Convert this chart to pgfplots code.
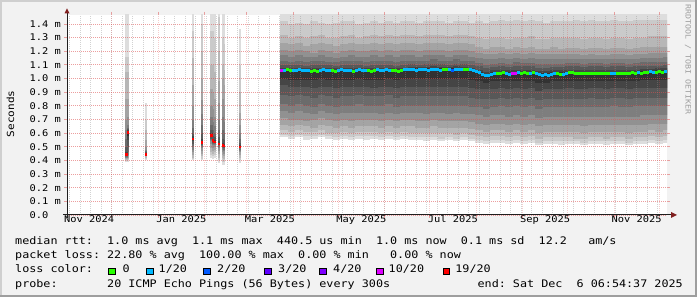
\documentclass[border=0pt]{standalone}
\usepackage{fontspec}
\setmainfont[FakeStretch=1.13]{DejaVu Sans Mono}
\usepackage{pgfplots}
\pgfplotsset{compat=1.18}
\usepackage{pgfplotstable}

\definecolor{bgc}{HTML}{F2F2F2}
\definecolor{shadeA}{HTML}{CFCFCF}
\definecolor{shadeB}{HTML}{9E9E9E}
\definecolor{mgridc}{rgb}{0.87,0.31,0.31}
\definecolor{gridc}{rgb}{0.56,0.56,0.56}
\definecolor{arrowc}{rgb}{0.50,0.12,0.12}
\definecolor{axisc}{rgb}{0.12,0.12,0.12}
\definecolor{s1}{HTML}{DDDDDD}
\definecolor{s2}{HTML}{CACACA}
\definecolor{s3}{HTML}{B7B7B7}
\definecolor{s4}{HTML}{A4A4A4}
\definecolor{s5}{HTML}{919191}
\definecolor{s6}{HTML}{7E7E7E}
\definecolor{s7}{HTML}{6B6B6B}
\definecolor{s8}{HTML}{585858}
\definecolor{s9}{HTML}{454545}
\definecolor{s10}{HTML}{323232}
\definecolor{lc0}{HTML}{26FF00}
\definecolor{lc1}{HTML}{00B8FF}
\definecolor{lc2}{HTML}{0059FF}
\definecolor{lc3}{HTML}{5E00FF}
\definecolor{lc4}{HTML}{7E00FF}
\definecolor{lc10}{HTML}{DD00FF}
\definecolor{lc19}{HTML}{FF0000}

% smoke of the main period: 20 sorted ping times (ms) per 5-day column
\pgfplotstableread{
d lo1 lo2 lo3 lo4 lo5 lo6 lo7 lo8 lo9 lo10 hi10 hi9 hi8 hi7 hi6 hi5 hi4 hi3 hi2 hi1
145 0.57 0.59 0.62 0.66 0.71 0.76 0.81 0.88 0.95 1.00 1.07 1.08 1.10 1.13 1.17 1.21 1.26 1.32 1.42 1.6
150 0.56 0.58 0.61 0.65 0.70 0.75 0.80 0.87 0.94 0.99 1.07 1.08 1.10 1.12 1.16 1.20 1.25 1.30 1.40 1.6
155 0.57 0.59 0.62 0.66 0.70 0.76 0.81 0.88 0.94 0.99 1.065 1.08 1.10 1.13 1.17 1.21 1.26 1.31 1.41 1.6
160 0.55 0.58 0.61 0.65 0.69 0.75 0.80 0.87 0.94 0.99 1.065 1.075 1.095 1.12 1.16 1.20 1.24 1.30 1.40 1.6
165 0.56 0.58 0.61 0.64 0.70 0.74 0.79 0.86 0.93 0.99 1.06 1.075 1.10 1.13 1.16 1.19 1.25 1.31 1.42 1.6
170 0.57 0.59 0.62 0.66 0.71 0.76 0.81 0.88 0.94 1.00 1.07 1.08 1.10 1.13 1.17 1.21 1.26 1.32 1.41 1.6
175 0.56 0.58 0.60 0.65 0.70 0.75 0.80 0.87 0.94 0.99 1.065 1.08 1.10 1.12 1.16 1.20 1.25 1.30 1.40 1.6
180 0.55 0.57 0.60 0.64 0.69 0.74 0.79 0.86 0.93 0.99 1.06 1.075 1.095 1.12 1.15 1.19 1.24 1.30 1.41 1.6
185 0.56 0.58 0.61 0.65 0.70 0.75 0.80 0.87 0.94 0.99 1.065 1.08 1.10 1.13 1.16 1.20 1.25 1.31 1.42 1.6
190 0.55 0.57 0.60 0.64 0.69 0.75 0.80 0.87 0.94 0.99 1.06 1.075 1.10 1.13 1.17 1.21 1.26 1.32 1.42 1.6
195 0.56 0.58 0.61 0.65 0.70 0.75 0.81 0.88 0.94 1.00 1.07 1.08 1.10 1.13 1.16 1.20 1.25 1.30 1.40 1.6
200 0.55 0.58 0.61 0.65 0.70 0.75 0.80 0.87 0.94 0.99 1.06 1.075 1.095 1.12 1.16 1.20 1.25 1.31 1.41 1.6
205 0.56 0.58 0.61 0.65 0.70 0.75 0.80 0.87 0.93 0.99 1.06 1.075 1.10 1.13 1.17 1.21 1.26 1.32 1.42 1.6
210 0.55 0.57 0.60 0.64 0.69 0.74 0.80 0.87 0.94 0.99 1.065 1.08 1.10 1.13 1.16 1.20 1.25 1.31 1.41 1.6
215 0.56 0.58 0.61 0.65 0.70 0.75 0.81 0.88 0.94 1.00 1.07 1.08 1.10 1.13 1.17 1.21 1.26 1.32 1.42 1.6
220 0.55 0.57 0.60 0.64 0.69 0.74 0.79 0.86 0.93 0.99 1.06 1.075 1.095 1.12 1.16 1.20 1.25 1.31 1.41 1.6
225 0.56 0.58 0.61 0.65 0.70 0.75 0.80 0.87 0.94 1.00 1.07 1.08 1.10 1.13 1.17 1.21 1.26 1.32 1.42 1.6
230 0.55 0.57 0.60 0.65 0.70 0.75 0.80 0.87 0.94 1.00 1.075 1.085 1.105 1.13 1.17 1.21 1.26 1.32 1.42 1.6
235 0.55 0.57 0.60 0.64 0.69 0.75 0.80 0.87 0.94 1.00 1.075 1.085 1.10 1.13 1.16 1.20 1.25 1.31 1.41 1.6
240 0.54 0.57 0.60 0.64 0.69 0.74 0.80 0.87 0.94 1.00 1.075 1.085 1.105 1.13 1.17 1.21 1.26 1.32 1.42 1.6
245 0.55 0.57 0.60 0.65 0.70 0.75 0.80 0.87 0.94 1.00 1.08 1.09 1.11 1.14 1.17 1.21 1.26 1.32 1.42 1.6
250 0.54 0.56 0.60 0.64 0.69 0.75 0.80 0.87 0.94 1.00 1.075 1.085 1.105 1.13 1.17 1.21 1.26 1.32 1.42 1.6
255 0.55 0.57 0.60 0.64 0.69 0.74 0.80 0.87 0.94 1.00 1.075 1.085 1.10 1.13 1.16 1.20 1.25 1.31 1.41 1.6
260 0.54 0.56 0.59 0.64 0.69 0.75 0.80 0.87 0.94 1.00 1.08 1.09 1.11 1.14 1.17 1.21 1.26 1.32 1.42 1.6
265 0.55 0.57 0.60 0.64 0.69 0.74 0.80 0.87 0.94 1.00 1.075 1.085 1.105 1.13 1.17 1.21 1.26 1.32 1.42 1.6
270 0.54 0.56 0.59 0.63 0.68 0.74 0.79 0.86 0.93 0.99 1.07 1.08 1.10 1.13 1.16 1.20 1.25 1.31 1.41 1.6
275 0.53 0.55 0.58 0.62 0.67 0.73 0.79 0.85 0.92 0.98 1.05 1.065 1.09 1.115 1.15 1.19 1.23 1.30 1.42 1.6
280 0.52 0.54 0.57 0.61 0.66 0.72 0.78 0.85 0.92 0.97 1.03 1.05 1.075 1.10 1.14 1.18 1.22 1.29 1.41 1.6
285 0.53 0.55 0.58 0.62 0.67 0.73 0.79 0.85 0.92 0.98 1.045 1.06 1.085 1.11 1.145 1.18 1.23 1.30 1.42 1.6
290 0.53 0.55 0.58 0.62 0.67 0.73 0.80 0.86 0.93 0.98 1.05 1.065 1.09 1.115 1.15 1.19 1.23 1.30 1.43 1.6
295 0.52 0.54 0.57 0.61 0.66 0.72 0.79 0.85 0.92 0.98 1.045 1.06 1.085 1.11 1.14 1.18 1.22 1.29 1.42 1.6
300 0.53 0.55 0.58 0.62 0.67 0.73 0.80 0.86 0.93 0.98 1.05 1.065 1.09 1.12 1.15 1.19 1.23 1.30 1.43 1.6
305 0.52 0.54 0.57 0.61 0.66 0.72 0.79 0.85 0.92 0.98 1.05 1.065 1.09 1.115 1.145 1.18 1.225 1.30 1.42 1.6
310 0.53 0.55 0.58 0.62 0.67 0.73 0.80 0.86 0.93 0.98 1.05 1.065 1.09 1.115 1.15 1.19 1.23 1.31 1.43 1.6
315 0.51 0.53 0.56 0.60 0.65 0.71 0.78 0.84 0.91 0.97 1.04 1.055 1.08 1.105 1.14 1.18 1.22 1.29 1.42 1.6
320 0.52 0.54 0.57 0.61 0.66 0.72 0.79 0.85 0.92 0.97 1.04 1.055 1.08 1.11 1.14 1.18 1.22 1.29 1.41 1.6
325 0.52 0.54 0.57 0.61 0.66 0.72 0.79 0.85 0.92 0.98 1.045 1.06 1.085 1.11 1.145 1.18 1.23 1.30 1.42 1.6
330 0.51 0.54 0.57 0.61 0.66 0.72 0.79 0.85 0.92 0.98 1.045 1.06 1.085 1.11 1.14 1.18 1.22 1.30 1.42 1.6
335 0.52 0.54 0.57 0.61 0.66 0.72 0.79 0.85 0.93 0.98 1.05 1.065 1.09 1.115 1.145 1.18 1.225 1.30 1.42 1.6
340 0.52 0.54 0.56 0.61 0.66 0.72 0.79 0.85 0.92 0.98 1.05 1.065 1.09 1.115 1.145 1.18 1.225 1.30 1.43 1.6
345 0.51 0.53 0.56 0.60 0.65 0.72 0.79 0.85 0.92 0.98 1.05 1.06 1.085 1.11 1.14 1.175 1.22 1.29 1.42 1.6
350 0.52 0.54 0.57 0.61 0.66 0.72 0.79 0.86 0.93 0.98 1.05 1.065 1.09 1.115 1.145 1.18 1.225 1.30 1.43 1.6
355 0.52 0.54 0.57 0.61 0.66 0.72 0.79 0.85 0.93 0.98 1.05 1.065 1.09 1.115 1.145 1.175 1.225 1.30 1.42 1.6
360 0.51 0.54 0.56 0.61 0.66 0.72 0.79 0.85 0.92 0.98 1.05 1.06 1.085 1.11 1.14 1.175 1.22 1.29 1.42 1.6
365 0.52 0.54 0.57 0.61 0.66 0.72 0.80 0.86 0.93 0.98 1.05 1.065 1.09 1.115 1.145 1.18 1.225 1.30 1.43 1.6
370 0.52 0.54 0.57 0.61 0.66 0.72 0.79 0.86 0.93 0.98 1.05 1.065 1.09 1.115 1.145 1.18 1.225 1.30 1.42 1.6
375 0.51 0.53 0.56 0.60 0.66 0.72 0.79 0.85 0.92 0.98 1.05 1.06 1.085 1.11 1.14 1.175 1.22 1.29 1.42 1.6
380 0.52 0.54 0.57 0.61 0.66 0.72 0.80 0.86 0.93 0.98 1.05 1.065 1.09 1.115 1.145 1.18 1.225 1.30 1.43 1.6
385 0.52 0.54 0.57 0.61 0.66 0.73 0.80 0.86 0.93 0.99 1.055 1.07 1.09 1.12 1.15 1.18 1.23 1.30 1.43 1.6
390 0.53 0.55 0.58 0.62 0.67 0.73 0.80 0.86 0.93 0.99 1.055 1.07 1.095 1.12 1.15 1.19 1.23 1.31 1.43 1.6
395 0.52 0.54 0.57 0.61 0.67 0.73 0.80 0.86 0.93 0.99 1.06 1.075 1.095 1.12 1.15 1.19 1.23 1.31 1.43 1.6
400 0.53 0.55 0.58 0.62 0.67 0.73 0.80 0.86 0.93 0.99 1.06 1.075 1.10 1.125 1.155 1.19 1.235 1.31 1.43 1.6
}\smoke

% smoke of the sparse early samples (1-day columns)
\pgfplotstableread{
d lo1 lo2 lo3 lo4 lo5 lo6 lo7 lo8 lo9 lo10 hi10 hi9 hi8 hi7 hi6 hi5 hi4 hi3 hi2 hi1
39.9 0.385 0.395 0.40 0.41 0.415 0.42 0.425 0.43 0.435 0.44 0.445 0.46 0.50 0.56 0.62 0.70 0.85 1.05 1.16 1.60
41.0 0.39 0.40 0.41 0.42 0.43 0.44 0.46 0.50 0.55 0.58 0.61 0.62 0.63 0.64 0.66 0.72 0.85 1.05 1.16 1.60
53.0 0.40 0.41 0.42 0.43 0.43 0.435 0.44 0.44 0.44 0.44 0.445 0.45 0.46 0.47 0.48 0.50 0.55 0.62 0.70 0.82
84.1 0.40 0.41 0.42 0.44 0.46 0.48 0.50 0.52 0.54 0.55 0.56 0.58 0.60 0.64 0.70 0.80 0.95 1.15 1.35 1.60
90.1 0.40 0.41 0.43 0.45 0.47 0.49 0.50 0.51 0.52 0.53 0.54 0.56 0.60 0.66 0.74 0.84 1.00 1.20 1.40 1.60
96.5 0.42 0.44 0.46 0.49 0.52 0.54 0.55 0.56 0.57 0.58 0.585 0.60 0.62 0.66 0.72 0.80 0.92 1.10 1.35 1.60
97.5 0.41 0.43 0.45 0.47 0.49 0.51 0.52 0.53 0.54 0.545 0.55 0.56 0.58 0.62 0.68 0.78 0.90 1.10 1.35 1.60
98.5 0.42 0.44 0.46 0.48 0.50 0.51 0.52 0.525 0.53 0.535 0.54 0.55 0.57 0.60 0.65 0.72 0.85 1.05 1.30 1.60
101.8 0.38 0.40 0.42 0.45 0.47 0.49 0.50 0.51 0.515 0.52 0.525 0.54 0.57 0.62 0.70 0.82 0.98 1.20 1.45 1.60
104.1 0.37 0.39 0.42 0.44 0.46 0.48 0.49 0.50 0.505 0.51 0.515 0.53 0.56 0.62 0.72 0.85 1.00 1.10 1.30 1.60
105.1 0.37 0.39 0.41 0.43 0.45 0.47 0.48 0.49 0.50 0.505 0.51 0.52 0.55 0.60 0.68 0.80 0.95 1.06 1.25 1.60
115.6 0.38 0.40 0.42 0.44 0.46 0.47 0.48 0.49 0.495 0.50 0.505 0.51 0.53 0.56 0.60 0.66 0.75 0.90 1.10 1.36
}\streaks

% median rtt (ms) and loss class
\pgfplotstableread{
d m c
143 1.062 m
145 1.060 b
147 1.064 g
149 1.061 g
151 1.057 b
153 1.060 b
155 1.064 b
157 1.056 b
159 1.062 b
161 1.059 b
163 1.055 g
165 1.058 g
167 1.053 g
169 1.060 b
171 1.064 b
173 1.057 b
175 1.062 b
177 1.058 g
179 1.054 g
181 1.062 b
183 1.066 b
185 1.059 b
187 1.062 b
189 1.057 b
191 1.053 g
193 1.060 b
195 1.064 b
197 1.058 b
199 1.062 b
201 1.056 g
203 1.053 g
205 1.060 g
207 1.064 b
209 1.058 b
211 1.062 b
213 1.067 b
215 1.060 b
217 1.057 g
219 1.062 g
221 1.055 g
223 1.060 g
225 1.064 b
227 1.066 b
229 1.064 b
231 1.068 b
233 1.062 b
235 1.066 b
237 1.064 b
239 1.068 b
241 1.062 b
243 1.066 b
245 1.070 b
247 1.064 b
249 1.062 b
251 1.066 g
253 1.064 g
255 1.068 b
257 1.062 d
259 1.066 b
261 1.070 b
263 1.066 b
265 1.068 g
267 1.064 g
269 1.066 b
271 1.060 b
273 1.050 b
275 1.042 b
277 1.030 b
279 1.025 b
281 1.020 b
283 1.028 b
285 1.035 b
287 1.040 g
289 1.036 g
291 1.044 g
293 1.038 b
295 1.032 b
297 1.040 m
299 1.036 m
301 1.042 b
303 1.038 g
305 1.044 g
307 1.036 g
309 1.040 b
311 1.046 g
313 1.040 b
315 1.030 b
317 1.022 b
319 1.028 b
321 1.024 b
323 1.030 b
325 1.034 b
327 1.038 g
329 1.028 g
331 1.032 b
333 1.036 b
335 1.044 g
337 1.046 g
339 1.040 g
341 1.038 g
343 1.040 g
345 1.036 g
347 1.038 g
349 1.040 g
351 1.036 g
353 1.038 g
355 1.040 g
357 1.036 g
359 1.038 g
361 1.040 g
363 1.036 b
365 1.034 b
367 1.040 g
369 1.038 g
371 1.036 g
373 1.040 g
375 1.038 g
377 1.042 g
379 1.040 g
381 1.044 b
383 1.040 g
385 1.042 g
387 1.046 g
389 1.050 b
391 1.048 b
393 1.046 g
395 1.050 g
397 1.048 g
399 1.052 b
}\median

\pgfplotstableread{
d m c
39.9 0.442 r
41.0 0.606 r
53.0 0.442 r
84.1 0.557 r
90.1 0.532 r
96.5 0.581 r
97.5 0.545 r
98.5 0.535 r
101.8 0.521 r
104.1 0.510 r
105.1 0.505 r
115.6 0.498 r
}\smed

\newcommand\tickfont{\fontsize{9.2}{11}\selectfont}
\newcommand\legfont{\fontsize{10.4}{12}\selectfont}

\begin{document}
\begin{tikzpicture}
\begin{scope}[x=1pt,y=1pt]
\fill[bgc] (0,0) rectangle (697,297);
\fill[shadeA] (0,295) rectangle (697,297);
\fill[shadeA] (0,0) rectangle (2,297);
\fill[shadeB] (0,0) rectangle (697,2);
\fill[shadeB] (695,0) rectangle (697,297);
\end{scope}

\begin{axis}[
  at={(67pt,82pt)}, anchor=south west,
  scale only axis, width=600pt, height=200pt,
  xmin=0.3, xmax=400.3, ymin=0, ymax=1.466,
  axis background/.style={fill=white},
  axis line style={draw=none},
  axis on top,
  xtick={30,61,92,120,151,181,212,242,273,304,334,365,395},
  xticklabels={},
  minor xtick={2,9,...,400},
  xmajorgrids, xminorgrids, ymajorgrids,
  extra x ticks={15,76.5,135.5,196.5,257.5,319,380},
  extra x tick labels={Nov 2024,Jan 2025,Mar 2025,May 2025,Jul 2025,Sep 2025,Nov 2025},
  extra x tick style={grid=none, major tick length=0pt},
  ytick={0,0.1,0.2,0.3,0.4,0.5,0.6,0.7,0.8,0.9,1.0,1.1,1.2,1.3,1.4},
  yticklabels={0.0\phantom{\ m},0.1\ m,0.2\ m,0.3\ m,0.4\ m,0.5\ m,0.6\ m,0.7\ m,0.8\ m,0.9\ m,1.0\ m,1.1\ m,1.2\ m,1.3\ m,1.4\ m},
  tick align=outside, major tick length=3pt, minor tick length=0pt,
  tick style={color=mgridc, line width=1pt, opacity=0.5},
  major x grid style={color=mgridc, opacity=0.28, line width=0.9pt, dash pattern=on 1pt off 1pt},
  major y grid style={color=mgridc, opacity=0.55, line width=0.9pt, dash pattern=on 1pt off 1pt},
  minor x grid style={color=gridc, opacity=0.4, line width=0.9pt, dash pattern=on 1pt off 1pt},
  xticklabel style={font=\tickfont, anchor=north, inner sep=0pt},
  yticklabel style={font=\tickfont, anchor=east, inner sep=0pt, xshift=-3pt},
]
\pgfplotsinvokeforeach{1,2,3,4,5,6,7,8,9,10}{
  \addplot[draw=none, no markers, forget plot,
    error bars/.cd, y dir=plus, y explicit, error mark=none,
    error bar style={draw=s#1, line width=7.7pt, solid}]
    table[x=d, y=lo#1, y error plus expr={\thisrow{hi#1}-\thisrow{lo#1}}] {\smoke};
  \addplot[draw=none, no markers, forget plot,
    error bars/.cd, y dir=plus, y explicit, error mark=none,
    error bar style={draw=s#1, line width=2.4pt, solid}]
    table[x=d, y=lo#1, y error plus expr={\thisrow{hi#1}-\thisrow{lo#1}}] {\streaks};
}
\addplot[scatter, only marks, mark=-, mark size=1.55pt, line width=3pt,
  scatter src=explicit symbolic,
  scatter/classes={g={mark=-,color=lc0}, b={mark=-,color=lc1}, d={mark=-,color=lc2}, m={mark=-,color=lc10}, r={mark=-,color=lc19}}]
  table[x=d, y=m, meta=c] {\median};
\addplot[scatter, only marks, mark=-, mark size=1.2pt, line width=2.6pt,
  scatter src=explicit symbolic,
  scatter/classes={r={mark=-,color=lc19}}]
  table[x=d, y=m, meta=c] {\smed};
\end{axis}

\begin{scope}[x=1pt,y=1pt]
% axes and arrows
\draw[axisc, line width=1pt] (63,82) -- (671,82);
\fill[arrowc] (671,79) -- (677,82) -- (671,85) -- cycle;
\draw[axisc, line width=1pt] (67,79) -- (67,284);
\fill[arrowc] (64.5,283.5) -- (67,288.5) -- (69.5,283.5) -- cycle;
% axis title and watermark
\node[rotate=90, inner sep=0pt, font=\fontsize{9.8}{12}\selectfont] at (10.5,183) {Seconds};
\node[rotate=-90, inner sep=0pt, text=black!38, font=\fontsize{7.35}{9}\selectfont] at (688,237) {RRDTOOL / TOBI OETIKER};
% legend
\begin{scope}[every node/.style={anchor=base west, inner sep=0pt, font=\legfont}]
\node at (15,52) {median~rtt:~~1.0~ms~avg~~1.1~ms~max~~440.5~us~min~~1.0~ms~now~~0.1~ms~sd~~12.2~~~am/s};
\node at (15,38) {packet~loss:~22.80~\%~avg~~100.00~\%~max~~0.00~\%~min~~~0.00~\%~now};
\node at (15,24) {loss~color:};
\node at (122.3,24) {0};
\node at (158.5,24) {1/20};
\node at (217,24) {2/20};
\node at (278,24) {3/20};
\node at (333,24) {4/20};
\node at (388.5,24) {10/20};
\node at (455.2,24) {19/20};
\node at (15,9.7) {probe:~~~~~~~20~ICMP~Echo~Pings~(56~Bytes)~every~300s};
\node at (477.4,9.7) {end:~Sat~Dec~~6~06:54:37~2025};
\end{scope}
\foreach \xx/\cc in {108.8/lc0,146.5/lc1,203.8/lc2,264.8/lc3,319.8/lc4,376.5/lc10,443.2/lc19}
  \filldraw[fill=\cc, draw=black, line width=1pt] (\xx,22.8) rectangle ++(6.7,6);
\end{scope}
\pgfresetboundingbox
\path[use as bounding box] (0,0) rectangle (697pt,297pt);
\end{tikzpicture}
\end{document}
